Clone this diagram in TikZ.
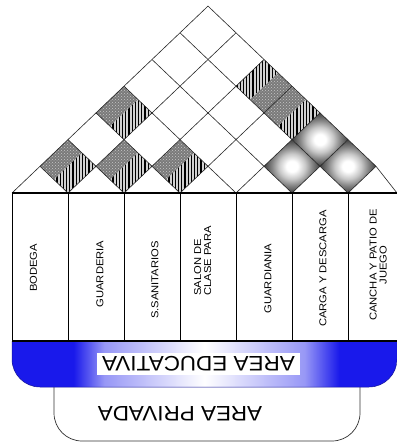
\documentclass[tikz,border=0pt]{standalone}
\usepackage{fontspec}
\setmainfont{Liberation Sans}
\usetikzlibrary{patterns}
\definecolor{bandblue}{RGB}{25,25,235}
\definecolor{bandedge}{RGB}{20,20,150}
\pgfdeclareradialshading{sphereshade}{\pgfpoint{0bp}{0bp}}{color(0bp)=(white); color(5bp)=(white); color(12bp)=(black!22); color(18bp)=(black!48); color(25bp)=(black!75); color(50bp)=(black!85)}
\pgfdeclarehorizontalshading{bandshade}{100bp}{color(0bp)=(bandblue); color(25bp)=(bandblue); color(33bp)=(bandblue); color(37bp)=(white!55!bandblue); color(50bp)=(white); color(63bp)=(white!55!bandblue); color(67.5bp)=(bandblue); color(75bp)=(bandblue); color(100bp)=(bandblue)}
\tikzset{
  gridline/.style={line width=0.6pt, draw=black!85},
  colline/.style={line width=0.8pt, draw=black},
  thickrule/.style={line width=2pt, draw=black},
  collabel/.style={rotate=90, font=\fontsize{10}{12.5}\selectfont, inner sep=0pt},
  biglabel/.style={rotate=180, font=\fontsize{21}{24}\selectfont, inner sep=0pt},
  stripe/.style={line width=1.3pt, draw=black},
}
\newcommand\Wide[2]{\scalebox{#1}[1]{#2}}
% diamond cell with checker gray and a striped band
% #1 cx, #2 cy, #3 = 0 lower-right band, 1 upper-left band
\newcommand\GrayCell[3]{%
  \begin{scope}
    \fill[black!52] ({#1},{#2-26.7}) -- ({#1+28},{#2}) -- ({#1},{#2+26.7}) -- ({#1-28},{#2}) -- cycle;
    \fill[pattern=crosshatch dots, pattern color=black!22] ({#1},{#2-26.7}) -- ({#1+28},{#2}) -- ({#1},{#2+26.7}) -- ({#1-28},{#2}) -- cycle;
    \ifnum#3=0
      \clip ({#1-14},{#2+13.35}) -- ({#1+14},{#2-13.35}) -- ({#1+28},{#2}) -- ({#1},{#2+26.7}) -- cycle;
    \else
      \clip ({#1-28},{#2}) -- ({#1},{#2-26.7}) -- ({#1+14},{#2-13.35}) -- ({#1-14},{#2+13.35}) -- cycle;
    \fi
    \fill[gray!35] ({#1-28},{#2-27}) rectangle ({#1+28},{#2+27});
    \foreach \k in {-27,-23.8,...,28} \draw[stripe] ({#1+\k},{#2-27}) -- ({#1+\k},{#2+27});
  \end{scope}}
\newcommand\SphereCell[2]{%
  \shade[shading=sphereshade] ({#1},{#2-26.7}) -- ({#1+28},{#2}) -- ({#1},{#2+26.7}) -- ({#1-28},{#2}) -- cycle;}
\begin{document}
\begin{tikzpicture}[x=1pt,y=-1pt]
  \useasboundingbox (0,0) rectangle (396,443);
  \fill[white] (0,0) rectangle (396,443);

  % private area
  \draw[line width=0.7pt, draw=black!80, fill=white]
    (54,370) -- (54,413) .. controls (54,428.5) and (66.5,441) .. (82,441)
    -- (332,441) .. controls (347.5,441) and (360,428.5) .. (360,413) -- (360,370);
  \node[biglabel] (privada) at (180,414) {\Wide{1.07}{AREA PRIVADA}};

  % educational band
  \shade[shading=bandshade]
    (12,341) -- (12,359) .. controls (12,374.5) and (24.5,387) .. (40,387)
    -- (369,387) .. controls (384.5,387) and (397,374.5) .. (397,359) -- (397,341) -- cycle;
  \draw[draw=bandedge, line width=0.5pt]
    (12,341) -- (12,359) .. controls (12,374.5) and (24.5,387) .. (40,387)
    -- (369,387) .. controls (384.5,387) and (397,374.5) .. (397,359) -- (397,341);
  \fill[white] (97,353) rectangle (300,375);
  \node[biglabel] (educativa) at (198.5,364) {\Wide{1.07}{AREA EDUCATIVA}};

  % columns
  \draw[colline] (12,193) -- (12,341);
  \foreach \i in {1,...,6} \draw[colline] ({12+56*\i},193) -- ({12+56*\i},341);
  \draw[colline] (398.5,193) -- (398.5,341);

  \node[collabel] (c1) at (33.5,268) {\Wide{1.12}{BODEGA}};
  \node[collabel] (c2) at (100,274) {\Wide{1.12}{GUARDERIA}};
  \node[collabel] (c3) at (155,280) {\Wide{1.12}{S.SANITARIOS}};
  \node[collabel] (c4) at (203.5,261) {\Wide{1.12}{\begin{tabular}{@{}l@{}}SALON DE\\[-2.5pt]CLASE PARA\end{tabular}}};
  \node[collabel] (c5) at (268,278.5) {\Wide{1.12}{GUARDIANIA}};
  \node[collabel] (c6) at (323,268.5) {\Wide{1.12}{CARGA Y DESCARGA}};
  \node[collabel] (c7) at (379,265) {\Wide{1.12}{\begin{tabular}{@{}c@{}}CANCHA Y PATIO DE\\[-2.5pt]JUEGO\end{tabular}}};

  % roof cells
  \GrayCell{68}{166.3}{0}
  \GrayCell{124}{166.3}{0}
  \GrayCell{180}{166.3}{0}
  \GrayCell{124}{112.9}{0}
  \GrayCell{264}{86.2}{1}
  \GrayCell{292}{112.9}{0}
  \SphereCell{292}{166.3}
  \SphereCell{348}{166.3}
  \SphereCell{320}{139.6}

  % roof grid
  \foreach \i in {1,...,6} {
    \draw[gridline] ({12+56*\i},193) -- ({12+28*\i},{193-26.7*\i});
    \draw[gridline] ({12+56*\i},193) -- ({208+28*\i},{193-26.7*(7-\i)});
  }
  \draw[gridline] (12,193) -- (208,6.1) -- (376,166.3) -- (397,193);

  % rules
  \draw[thickrule] (12,193) -- (397,193);
  \draw[thickrule] (12,341) -- (397,341);
\end{tikzpicture}
\end{document}
